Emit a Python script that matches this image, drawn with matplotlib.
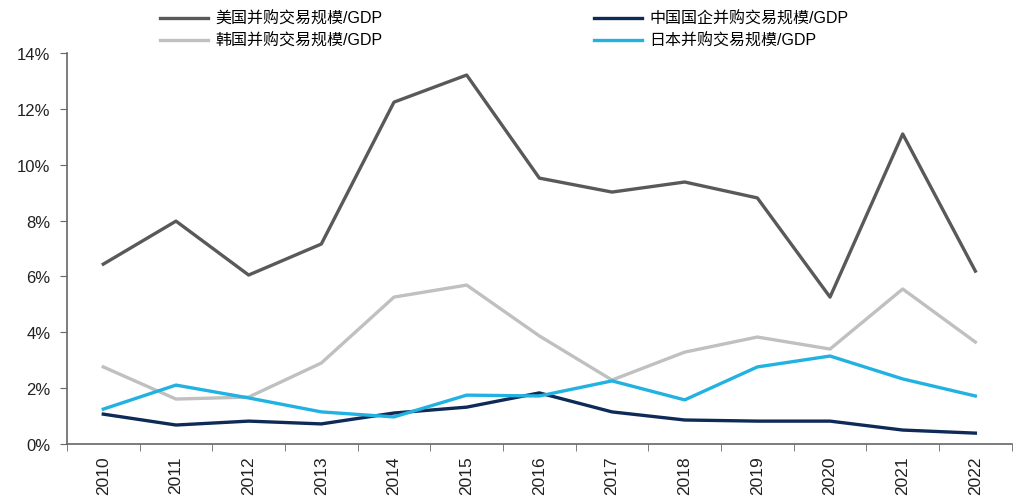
import matplotlib.pyplot as plt
from matplotlib.ticker import FuncFormatter
import numpy as np

plt.rcParams['font.family'] = ['Liberation Sans', 'Noto Sans CJK SC', 'DejaVu Sans']

years = ['2010', '2011', '2012', '2013', '2014', '2015', '2016',
         '2017', '2018', '2019', '2020', '2021', '2022']
us = [6.44, 7.98, 6.05, 7.16, 12.24, 13.21, 9.52, 9.02, 9.38, 8.81, 5.26, 11.10, 6.19]
korea = [2.76, 1.61, 1.68, 2.90, 5.26, 5.69, 3.87, 2.29, 3.29, 3.83, 3.40, 5.55, 3.65]
china_soe = [1.07, 0.68, 0.82, 0.72, 1.11, 1.32, 1.83, 1.15, 0.86, 0.82, 0.82, 0.50, 0.39]
japan = [1.25, 2.11, 1.65, 1.15, 0.97, 1.75, 1.72, 2.26, 1.58, 2.76, 3.15, 2.33, 1.72]

labels = ['美国并购交易规模/GDP', '韩国并购交易规模/GDP',
          '中国国企并购交易规模/GDP', '日本并购交易规模/GDP']

fig = plt.figure(figsize=(10.24, 5.02), dpi=100)
ax = fig.add_axes([0.0654, 0.1135, 0.9226, 0.779])

x = np.arange(len(years))
lw = 2.4
ax.plot(x, us, color='#595959', lw=lw, label=labels[0])
ax.plot(x, korea, color='#C0C0C0', lw=lw, label=labels[1])
ax.plot(x, china_soe, color='#0E2A57', lw=lw, label=labels[2])
ax.plot(x, japan, color='#22B2E2', lw=lw, label=labels[3])

ax.set_xlim(-0.5, len(years) - 0.5)
ax.set_ylim(0, 14)
ax.set_yticks(np.arange(0, 15, 2))
ax.yaxis.set_major_formatter(FuncFormatter(lambda v, p: f'{v:.0f}%'))

# year labels centred, ticks between categories
ax.set_xticks(x)
ax.set_xticklabels(years, rotation=90)
ax.set_xticks(np.arange(-0.5, len(years), 1), minor=True)
ax.tick_params(axis='x', which='major', length=0, pad=8, labelsize=12.5, labelcolor='#222222')
ax.tick_params(axis='x', which='minor', length=5, direction='out', color='#666666')
ax.tick_params(axis='y', length=5, direction='out', color='#666666', labelsize=12,
               labelcolor='#222222', pad=7)

for s in ['top', 'right']:
    ax.spines[s].set_visible(False)
for s in ['left', 'bottom']:
    ax.spines[s].set_color('#666666')
    ax.spines[s].set_linewidth(1.2)

handles, labs = ax.get_legend_handles_labels()
fig.legend(handles, labs, ncol=2, loc='upper left', bbox_to_anchor=(0.142, 1.005),
           frameon=False, fontsize=11.5, handlelength=3.0, handletextpad=0.5,
           columnspacing=13.2, labelspacing=0.42)

fig.savefig('out.png', dpi=100, facecolor='white')
